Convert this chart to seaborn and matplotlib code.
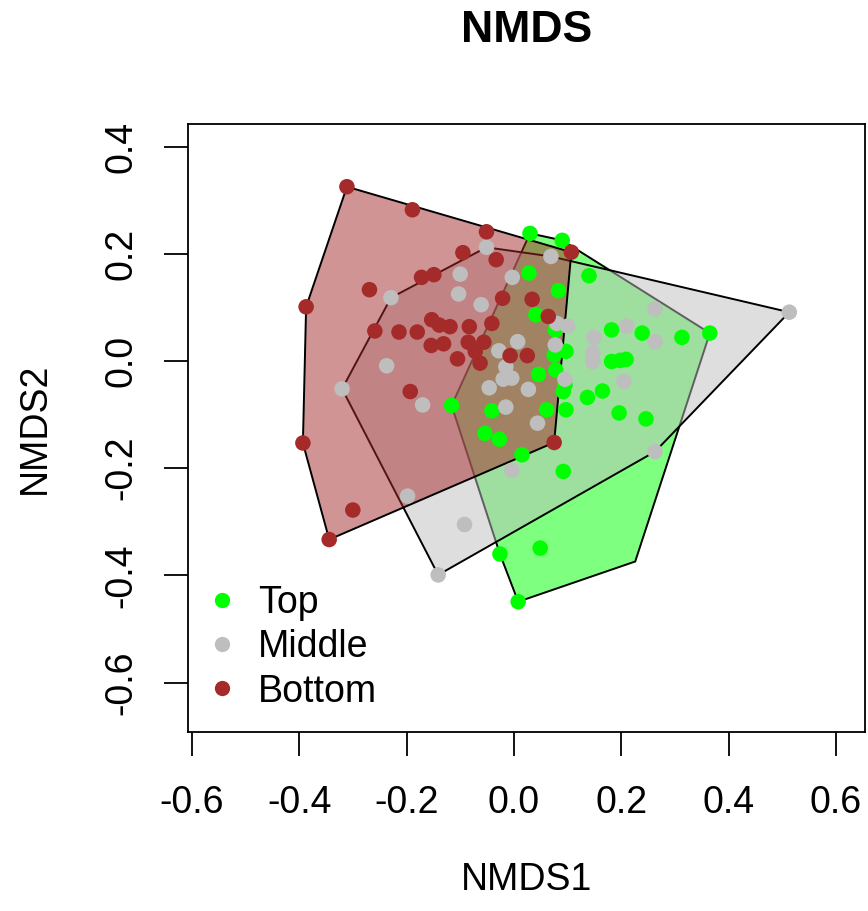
import numpy as np
import pandas as pd
import matplotlib
matplotlib.use("Agg")
import matplotlib.pyplot as plt
import seaborn as sns

# ---- data ----
groups = ["Top", "Middle", "Bottom"]
colors = ["#00FF00", "#BEBEBE", "#A52A2A"]

top_x = [0.030, 0.090, 0.028, 0.140, 0.083, 0.041, 0.077, 0.182, 0.239, 0.313, 0.365, 0.097,
         0.075, 0.182, 0.198, 0.209, 0.046, 0.078, 0.095, 0.092, 0.137, 0.165, 0.196, 0.246,
         -0.116, -0.041, 0.061, 0.097, -0.054, -0.027, 0.015, 0.092, -0.026, 0.049, 0.008]
top_y = [0.238, 0.225, 0.164, 0.159, 0.131, 0.086, 0.058, 0.058, 0.052, 0.044, 0.052, 0.018,
         0.011, -0.001, 0.001, 0.003, -0.025, -0.017, -0.045, -0.057, -0.068, -0.056, -0.097, -0.108,
         -0.083, -0.093, -0.091, -0.091, -0.135, -0.146, -0.175, -0.206, -0.360, -0.349, -0.449]
# extra hull vertex of the Top group (corner without a visible point)
top_hull_extra_x = [0.226]
top_hull_extra_y = [-0.374]

mid_x = [-0.051, 0.069, -0.100, -0.003, -0.103, -0.229, -0.061, 0.080, 0.100, 0.077, 0.007, -0.028,
         -0.237, -0.015, -0.004, -0.020, -0.046, 0.027, 0.095, -0.015, 0.044, -0.170, -0.004, 0.149,
         0.147, 0.147, 0.210, 0.263, 0.263, 0.205, 0.263, 0.513, -0.141, -0.198, -0.092, -0.320]
mid_y = [0.212, 0.195, 0.162, 0.156, 0.125, 0.118, 0.105, 0.070, 0.065, 0.030, 0.036, 0.019,
         -0.009, -0.011, -0.032, -0.034, -0.050, -0.053, -0.034, -0.086, -0.116, -0.082, -0.204, 0.044,
         0.015, -0.001, 0.065, 0.097, 0.036, -0.038, -0.169, 0.091, -0.399, -0.252, -0.305, -0.052]

bot_x = [-0.311, -0.189, -0.051, 0.107, -0.095, -0.033, -0.172, -0.149, -0.269, -0.387, -0.021, 0.034,
         0.064, -0.259, -0.214, -0.180, -0.153, -0.139, -0.119, -0.083, -0.041, -0.154, -0.131, -0.085,
         -0.056, -0.072, -0.105, -0.063, -0.007, 0.025, -0.193, 0.075, -0.393, -0.344, -0.300]
bot_y = [0.325, 0.282, 0.241, 0.203, 0.202, 0.189, 0.156, 0.161, 0.133, 0.101, 0.117, 0.115,
         0.083, 0.056, 0.054, 0.054, 0.077, 0.067, 0.064, 0.064, 0.070, 0.029, 0.032, 0.035,
         0.035, 0.018, 0.004, -0.004, 0.010, 0.010, -0.057, -0.152, -0.153, -0.333, -0.278]

x_ticks = [-0.6, -0.4, -0.2, 0.0, 0.2, 0.4, 0.6]
y_ticks = [-0.6, -0.4, -0.2, 0.0, 0.2, 0.4]

df = pd.DataFrame({
    "NMDS1": top_x + mid_x + bot_x,
    "NMDS2": top_y + mid_y + bot_y,
    "Group": ["Top"] * len(top_x) + ["Middle"] * len(mid_x) + ["Bottom"] * len(bot_x),
})


def convex_hull(pts):
    pts = sorted(set(map(tuple, pts)))
    if len(pts) < 3:
        return pts

    def cross(o, a, b):
        return (a[0] - o[0]) * (b[1] - o[1]) - (a[1] - o[1]) * (b[0] - o[0])

    lower, upper = [], []
    for p in pts:
        while len(lower) >= 2 and cross(lower[-2], lower[-1], p) <= 0:
            lower.pop()
        lower.append(p)
    for p in reversed(pts):
        while len(upper) >= 2 and cross(upper[-2], upper[-1], p) <= 0:
            upper.pop()
        upper.append(p)
    return lower[:-1] + upper[:-1]


sns.set_theme(style="white")
plt.rcParams["font.family"] = ["Liberation Sans", "DejaVu Sans"]

fig = plt.figure(figsize=(8.68, 9.11), dpi=100)
ax = fig.add_axes([188 / 868, 1 - 732 / 911, 677 / 868, 608 / 911])

hull_sets = {
    "Top": list(zip(top_x + top_hull_extra_x, top_y + top_hull_extra_y)),
    "Middle": list(zip(mid_x, mid_y)),
    "Bottom": list(zip(bot_x, bot_y)),
}
for g, c in zip(groups, colors):
    h = np.array(convex_hull(hull_sets[g]))
    ax.fill(h[:, 0], h[:, 1], facecolor=c, alpha=0.5, edgecolor="none", zorder=1)
    ax.fill(h[:, 0], h[:, 1], facecolor="none", edgecolor="black", linewidth=1.4, zorder=1)

sns.scatterplot(data=df, x="NMDS1", y="NMDS2", hue="Group", hue_order=groups,
                palette=colors, s=125, linewidth=0, edgecolor="none", ax=ax, zorder=3,
                legend=False)

ax.set_xlim(-0.607, 0.654)
ax.set_ylim(-0.692, 0.442)
ax.set_xticks(x_ticks)
ax.set_yticks(y_ticks)
ax.set_xticklabels([f"{v:.1f}" for v in x_ticks])
ax.set_yticklabels([f"{v:.1f}" for v in y_ticks])

for sp in ax.spines.values():
    sp.set_visible(True)
    sp.set_color("black")
    sp.set_linewidth(1.3)

ax.tick_params(axis="both", direction="out", length=17, width=1.3, color="black",
               labelsize=27, labelcolor="black")
ax.tick_params(axis="x", pad=21)
ax.tick_params(axis="y", pad=18)
ax.tick_params(axis="both", bottom=True, left=True, top=False, right=False)
for lab in ax.get_yticklabels():
    lab.set_rotation(90)
    lab.set_va("center")

ax.set_xlabel("NMDS1", fontsize=27, color="black")
ax.set_ylabel("NMDS2", fontsize=27, color="black")
ax.xaxis.set_label_coords(0.5, (732 - 880) / 608)
ax.xaxis.label.set_va("center")
ax.yaxis.set_label_coords((35 - 188) / 677, 0.5)
ax.yaxis.label.set_va("center")

ax.text(0.5, (732 - 30) / 608, "NMDS", transform=ax.transAxes, ha="center", va="center",
        fontsize=32, fontweight="bold", color="black")

handles = [plt.Line2D([], [], marker="o", linestyle="none", markersize=11,
                      markerfacecolor=c, markeredgecolor="none") for c in colors]
ax.legend(handles, groups, loc="lower left", bbox_to_anchor=(0.0, 0.0), frameon=False,
          fontsize=27, handletextpad=0.67, labelspacing=0.22, borderaxespad=0.2,
          handlelength=0.6, labelcolor="black")

ax.grid(False)
fig.savefig("out.png", dpi=100)
